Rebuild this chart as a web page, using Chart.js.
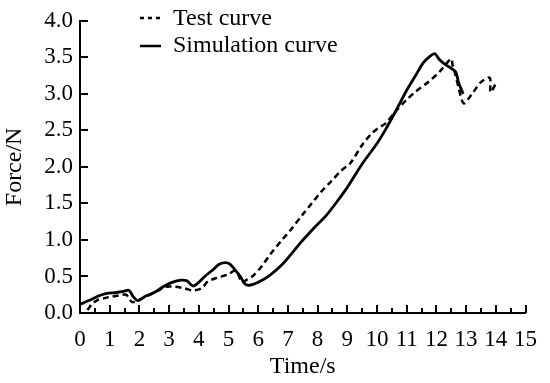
<!DOCTYPE html>
<html><head><meta charset="utf-8">
<script src="https://cdn.jsdelivr.net/npm/chart.js@4.4.1/dist/chart.umd.min.js"></script>
<style>html,body{margin:0;padding:0;background:#fff}#wrap{width:550px;height:383px}</style>
</head><body><div id="wrap"><canvas id="c" width="550" height="383"></canvas></div>
<script>
const seriesNames = ["Test curve", "Simulation curve"];
const testT = [0.25,0.4,0.6,0.8,1.0,1.3,1.55,1.75,1.9,2.1,2.4,2.7,2.9,3.2,3.5,3.8,4.1,4.3,4.6,5.0,5.2,5.3,5.45,5.6,5.8,6.1,6.4,6.8,7.1,7.5,7.8,8.1,8.45,8.8,9.1,9.5,9.8,10.0,10.3,10.6,11.0,11.3,11.75,12.1,12.35,12.5,12.55,12.65,12.75,12.92,13.2,13.5,13.8,13.82,14.0];
const testF = [0.04,0.12,0.18,0.20,0.22,0.24,0.25,0.15,0.16,0.20,0.26,0.32,0.36,0.36,0.34,0.31,0.34,0.43,0.48,0.53,0.58,0.55,0.42,0.45,0.50,0.63,0.80,1.00,1.14,1.35,1.50,1.65,1.80,1.95,2.05,2.30,2.45,2.52,2.60,2.75,2.92,3.03,3.17,3.30,3.42,3.48,3.38,3.25,3.08,2.87,3.00,3.16,3.22,3.02,3.14];
const simT = [0,0.3,0.6,0.9,1.2,1.5,1.65,1.8,1.95,2.2,2.5,2.8,3.1,3.4,3.6,3.8,4.0,4.2,4.5,4.7,4.9,5.05,5.2,5.4,5.55,5.7,6.0,6.4,6.8,7.1,7.4,7.8,8.3,8.7,9.0,9.5,10.0,10.3,10.65,11.0,11.3,11.55,11.8,11.95,12.1,12.3,12.5,12.65,12.75,12.85,12.9];
const simF = [0.12,0.17,0.23,0.27,0.28,0.30,0.31,0.22,0.17,0.23,0.28,0.36,0.42,0.45,0.44,0.37,0.42,0.50,0.60,0.67,0.69,0.67,0.60,0.50,0.40,0.38,0.42,0.52,0.66,0.80,0.95,1.13,1.34,1.55,1.72,2.04,2.32,2.52,2.78,3.05,3.25,3.42,3.52,3.55,3.47,3.40,3.35,3.30,3.15,3.05,3.00];
const xTicks = [0,1,2,3,4,5,6,7,8,9,10,11,12,13,14,15];
const yTicks = [0,0.5,1,1.5,2,2.5,3,3.5,4];
const xLabel = "Time/s", yLabel = "Force/N";

const FONT = "'Liberation Serif','Times New Roman',serif";
const pts = (t, f) => t.map((v, i) => ({x: v, y: f[i]}));

const inwardTicks = {
  id: 'inwardTicks',
  afterDraw(chart) {
    const ctx = chart.ctx;
    const x = chart.scales.x, y = chart.scales.y;
    const area = chart.chartArea;
    ctx.save();
    ctx.setLineDash([]);
    ctx.fillStyle = '#000';
    const b = Math.round(area.bottom), l = Math.round(area.left);
    for (let i = 0; i <= 30; i++) {
      const px = Math.round(x.getPixelForValue(i / 2));
      const len = (i % 2 === 0) ? 8 : 5;
      ctx.fillRect(px - 1, b - len, 2, len);
    }
    yTicks.forEach(v => {
      const py = Math.round(y.getPixelForValue(v));
      ctx.fillRect(l, py - 1, 8, 2);
    });
    // legend
    ctx.strokeStyle = '#000';
    ctx.lineWidth = 2.5;
    ctx.setLineDash([4, 4]);
    ctx.beginPath(); ctx.moveTo(140, 18); ctx.lineTo(160, 18); ctx.stroke();
    ctx.setLineDash([]);
    ctx.beginPath(); ctx.moveTo(140, 46); ctx.lineTo(161, 46); ctx.stroke();
    ctx.font = "24px " + FONT;
    ctx.textBaseline = 'middle';
    ctx.fillText(seriesNames[0], 173, 19);
    ctx.fillText(seriesNames[1], 173, 46);
    ctx.restore();
  }
};

new Chart(document.getElementById('c'), {
  type: 'line',
  data: {
    datasets: [
      {label: seriesNames[0], data: pts(testT, testF), borderColor: '#000', borderWidth: 2.5, borderDash: [6, 4], pointRadius: 0, tension: 0.3, fill: false},
      {label: seriesNames[1], data: pts(simT, simF), borderColor: '#000', borderWidth: 2.8, pointRadius: 0, tension: 0.3, fill: false}
    ]
  },
  options: {
    responsive: false, animation: false,
    layout: {padding: {top: 16, right: 18, left: 0, bottom: 2}},
    plugins: {legend: {display: false}, tooltip: {enabled: false}},
    scales: {
      x: {
        type: 'linear', min: 0, max: 15,
        afterBuildTicks: s => { s.ticks = xTicks.map(v => ({value: v})); },
        afterFit: s => { s.height = 68; },
        grid: {display: true, drawOnChartArea: false, drawTicks: false},
        border: {display: true, color: '#000', width: 2},
        ticks: {color: '#000', font: {family: FONT, size: 23}, padding: 13, maxRotation: 0, autoSkip: false},
        title: {display: true, text: xLabel, color: '#000', font: {family: FONT, size: 24}, padding: {top: -5, bottom: 0}}
      },
      y: {
        min: 0, max: 4,
        afterBuildTicks: s => { s.ticks = yTicks.map(v => ({value: v})); },
        afterFit: s => { s.width = 80; },
        grid: {display: true, drawOnChartArea: false, drawTicks: false},
        border: {display: true, color: '#000', width: 2},
        ticks: {color: '#000', font: {family: FONT, size: 23}, padding: 7, callback: v => Number(v).toFixed(1)},
        title: {display: true, text: yLabel, color: '#000', font: {family: FONT, size: 24}, padding: {top: 0, bottom: 2}}
      }
    }
  },
  plugins: [inwardTicks]
});
</script></body></html>
